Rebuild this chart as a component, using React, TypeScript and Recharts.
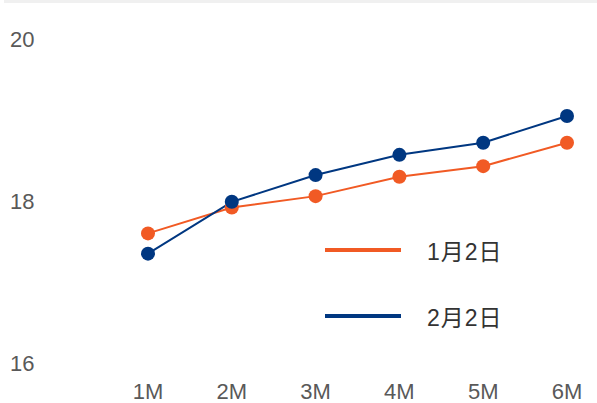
import { LineChart, Line, XAxis, YAxis } from "recharts";

const categories = ["1M", "2M", "3M", "4M", "5M", "6M"];
const seriesA = [17.6, 17.92, 18.06, 18.3, 18.43, 18.72];
const seriesB = [17.35, 17.99, 18.32, 18.57, 18.72, 19.05];
const seriesNames = ["1月2日", "2月2日"];
const yTicks = [16, 18, 20];

const ORANGE = "#f15a24";
const NAVY = "#003781";
const FONT = "'Liberation Sans', Arial, 'Noto Sans CJK SC', sans-serif";

const data = categories.map((c, i) => ({ name: c, a: seriesA[i], b: seriesB[i] }));

function YTick({ y, payload }: any) {
  return (
    <text x={10} y={y} dy={8} textAnchor="start" fill="#595959" fontSize={22} fontFamily={FONT}>
      {payload.value}
    </text>
  );
}

function LegendBox() {
  const items = [
    { name: seriesNames[0], color: ORANGE },
    { name: seriesNames[1], color: NAVY },
  ];
  return (
    <div style={{ position: "absolute", left: 325, top: 217, fontFamily: FONT }}>
      {items.map((it) => (
        <div key={it.name} style={{ display: "flex", alignItems: "center", height: 66 }}>
          <div style={{ width: 76, height: 4, background: it.color, marginRight: 26 }} />
          <span style={{ fontSize: 23, color: "#333", letterSpacing: 1 }}>{it.name}</span>
        </div>
      ))}
    </div>
  );
}

export default function App() {
  return (
    <div style={{ position: "absolute", left: 0, top: 0, width: 597, height: 403, background: "#fff" }}>
      <div style={{ position: "absolute", left: 4, top: 0, width: 593, height: 3, background: "#f0f0f0" }} />
      <LineChart width={597} height={403} data={data} margin={{ top: 39, right: 30, left: 0, bottom: 0 }}>
        <XAxis
          dataKey="name"
          axisLine={false}
          tickLine={false}
          height={40}
          tick={{ fill: "#595959", fontSize: 22, fontFamily: FONT, dy: 12 }}
        />
        <YAxis
          domain={[16, 20]}
          ticks={yTicks}
          width={148}
          axisLine={false}
          tickLine={false}
          tick={<YTick />}
        />
        <Line
          type="linear"
          dataKey="a"
          name={seriesNames[0]}
          stroke={ORANGE}
          strokeWidth={2}
          dot={{ r: 7, fill: ORANGE, stroke: "none" }}
          isAnimationActive={false}
        />
        <Line
          type="linear"
          dataKey="b"
          name={seriesNames[1]}
          stroke={NAVY}
          strokeWidth={2}
          dot={{ r: 7, fill: NAVY, stroke: "none" }}
          isAnimationActive={false}
        />
      </LineChart>
      <LegendBox />
    </div>
  );
}
